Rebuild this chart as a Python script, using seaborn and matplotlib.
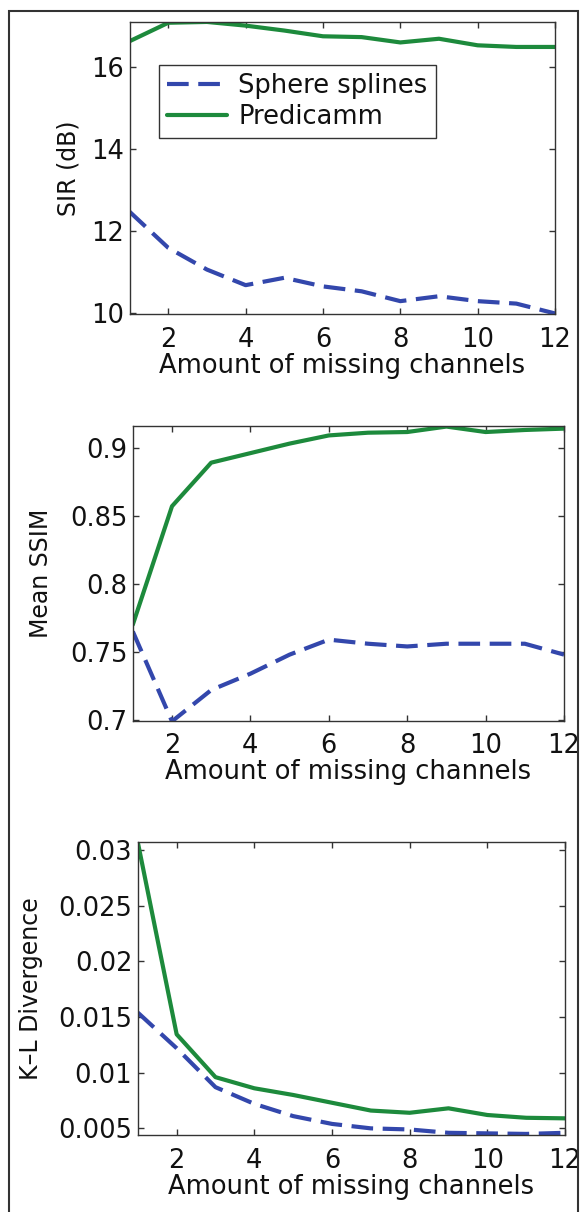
import numpy as np
import pandas as pd
import matplotlib
matplotlib.use('Agg')
import matplotlib.pyplot as plt
import seaborn as sns
from matplotlib.patches import Rectangle

# ===============================
# Data
# ===============================
channels = [1, 2, 3, 4, 5, 6, 7, 8, 9, 10, 11, 12]

sir_spline = [12.47, 11.59, 11.06, 10.68, 10.86, 10.65, 10.53, 10.29, 10.41, 10.29, 10.23, 9.99]
sir_predicamm = [16.63, 17.08, 17.10, 17.01, 16.89, 16.75, 16.73, 16.60, 16.69, 16.53, 16.49, 16.49]

ssim_spline = [0.765, 0.699, 0.722, 0.734, 0.748, 0.759, 0.756, 0.754, 0.756, 0.756, 0.756, 0.748]
ssim_predicamm = [0.770, 0.857, 0.889, 0.896, 0.903, 0.909, 0.911, 0.9115, 0.9155, 0.9115, 0.913, 0.914]

kl_spline = [0.0154, 0.0122, 0.0087, 0.0072, 0.0061, 0.0054, 0.0050, 0.0049, 0.0046, 0.00455, 0.0045, 0.0046]
kl_predicamm = [0.0307, 0.01345, 0.0096, 0.0086, 0.0080, 0.0073, 0.0066, 0.0064, 0.0068, 0.0062, 0.00595, 0.0059]

series_names = ['Sphere splines', 'Predicamm']
xlabel = 'Amount of missing channels'
ylabels = ['SIR (dB)', 'Mean SSIM', 'K\u2013L Divergence']

# ===============================
# Style
# ===============================
sns.set_style('ticks')
plt.rcParams['font.family'] = ['DejaVu Sans']

blue = '#3347ac'
green = '#1d8a3c'
edge = '#333333'
fs = 18.5

fig = plt.figure(figsize=(5.82, 12.12), dpi=100)

# axes placements [left, bottom, width, height]
positions = [
    [0.2227, 0.7407, 0.7309, 0.2412],
    [0.2282, 0.4054, 0.7409, 0.2432],
    [0.2368, 0.0635, 0.7340, 0.2420],
]
ylims = [(9.97, 17.1), (0.6995, 0.916), (0.0044, 0.03075)]
yticks = [[10, 12, 14, 16], [0.7, 0.75, 0.8, 0.85, 0.9], [0.005, 0.01, 0.015, 0.02, 0.025, 0.03]]
yticklabels = [['10', '12', '14', '16'],
               ['0.7', '0.75', '0.8', '0.85', '0.9'],
               ['0.005', '0.01', '0.015', '0.02', '0.025', '0.03']]
ylabel_x = [-0.116, -0.185, -0.222]
xlabel_y = [-0.134, -0.131, -0.134]

data = [(sir_spline, sir_predicamm), (ssim_spline, ssim_predicamm), (kl_spline, kl_predicamm)]

for i, (spline, pred) in enumerate(data):
    ax = fig.add_axes(positions[i])
    sns.lineplot(x=channels, y=spline, ax=ax, color=blue, linewidth=3,
                 label=series_names[0] if i == 0 else None)
    ax.lines[-1].set_dashes((5.2, 2.3))
    sns.lineplot(x=channels, y=pred, ax=ax, color=green, linewidth=3,
                 label=series_names[1] if i == 0 else None)

    ax.set_xlim(1, 12)
    ax.set_ylim(*ylims[i])
    ax.set_xticks([2, 4, 6, 8, 10, 12])
    ax.set_xticklabels(['2', '4', '6', '8', '10', '12'])
    ax.set_yticks(yticks[i])
    ax.set_yticklabels(yticklabels[i])
    ax.tick_params(direction='in', length=4, width=1, color=edge,
                   top=True, right=True, labelsize=fs, labelcolor='#111111')
    ax.tick_params(axis='x', pad=9)
    ax.tick_params(axis='y', pad=4)
    for s in ax.spines.values():
        s.set_visible(True)
        s.set_color(edge)
        s.set_linewidth(1)

    ax.set_xlabel(xlabel, fontsize=fs, color='#111111')
    ax.set_ylabel(ylabels[i], fontsize=17, color='#111111')
    ax.xaxis.set_label_coords(0.5, xlabel_y[i])
    ax.yaxis.set_label_coords(ylabel_x[i], 0.5)

    if i == 0:
        leg = ax.legend(loc='upper left', bbox_to_anchor=(0.069, 0.853), borderaxespad=0,
                        fontsize=fs, handlelength=2.33, handletextpad=0.44,
                        labelspacing=0.2, borderpad=0.32, fancybox=False,
                        framealpha=1, edgecolor=edge)
        leg.get_frame().set_linewidth(1)
        for t in leg.get_texts():
            t.set_color('#111111')
    else:
        if ax.get_legend() is not None:
            ax.get_legend().remove()

# outer frame (open at the bottom, as in the scan)
fig.patches.append(Rectangle((0.0155, -0.01), 0.978, 1.0009, transform=fig.transFigure,
                             fill=False, edgecolor=edge, linewidth=1.5))

plt.savefig('out.png', dpi=100)
plt.close()
